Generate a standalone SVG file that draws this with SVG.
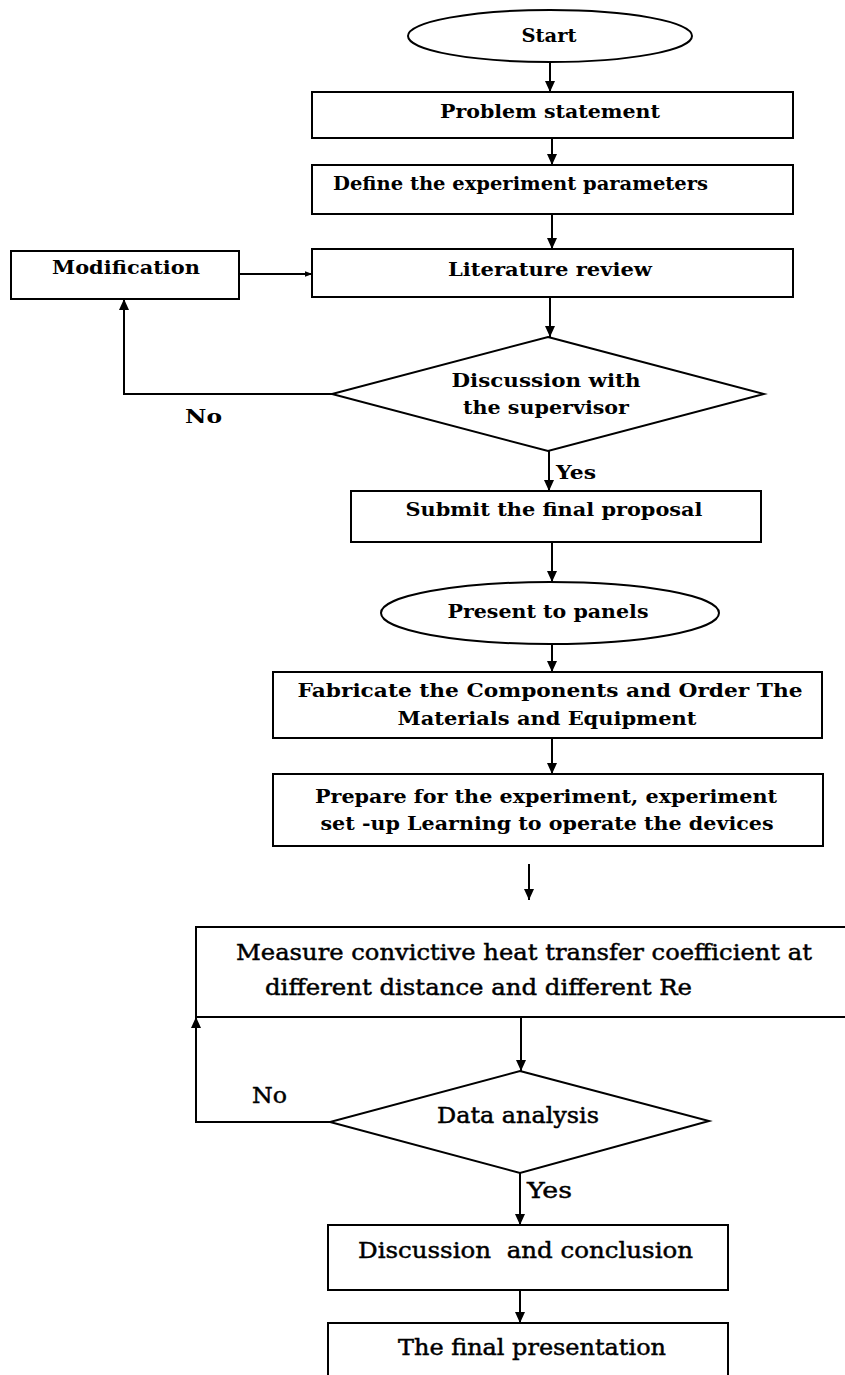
<svg xmlns="http://www.w3.org/2000/svg" width="845" height="1375" viewBox="0 0 845 1375">
<defs>
<style>
.box{fill:#fff;stroke:#000;stroke-width:2}
.ln{fill:none;stroke:#000;stroke-width:2}
.tb{font-family:"DejaVu Serif","Liberation Serif",serif;font-weight:bold;font-size:18.5px;fill:#000}
.tr{font-family:"DejaVu Serif","Liberation Serif",serif;font-size:21.5px;fill:#000;stroke:#000;stroke-width:0.45}
.c{text-anchor:middle}
</style>
<marker id="ah" markerUnits="userSpaceOnUse" markerWidth="12" markerHeight="12" viewBox="0 0 12 12" refX="11" refY="6" orient="auto">
<path d="M0,1 L11,6 L0,11 Z" fill="#000"/>
</marker>
<marker id="ahs" markerUnits="userSpaceOnUse" markerWidth="8" markerHeight="8" viewBox="0 0 8 8" refX="7.5" refY="4" orient="auto">
<path d="M0,1 L8,4 L0,7 Z" fill="#000"/>
</marker>
</defs>
<rect width="845" height="1375" fill="#fff"/>
<g id="connectors">
<line class="ln" x1="550" y1="62" x2="550" y2="92" marker-end="url(#ah)"/>
<line class="ln" x1="552" y1="138" x2="552" y2="165" marker-end="url(#ah)"/>
<line class="ln" x1="552" y1="214" x2="552" y2="249" marker-end="url(#ah)"/>
<line class="ln" x1="239" y1="274" x2="312" y2="274" marker-end="url(#ahs)"/>
<line class="ln" x1="550" y1="297" x2="550" y2="337" marker-end="url(#ah)"/>
<polyline class="ln" points="332,394 124,394 124,299" marker-end="url(#ah)"/>
<line class="ln" x1="549" y1="451" x2="549" y2="491" marker-end="url(#ah)"/>
<line class="ln" x1="552" y1="542" x2="552" y2="582" marker-end="url(#ah)"/>
<line class="ln" x1="552" y1="644" x2="552" y2="672" marker-end="url(#ah)"/>
<line class="ln" x1="552" y1="738" x2="552" y2="774" marker-end="url(#ah)"/>
<line class="ln" x1="529" y1="864" x2="529" y2="900" marker-end="url(#ah)"/>
<line class="ln" x1="521" y1="1017" x2="521" y2="1071" marker-end="url(#ah)"/>
<polyline class="ln" points="330,1122 196,1122 196,1017" marker-end="url(#ah)"/>
<line class="ln" x1="520" y1="1173" x2="520" y2="1225" marker-end="url(#ah)"/>
<line class="ln" x1="520" y1="1290" x2="520" y2="1323" marker-end="url(#ah)"/>
<text class="tb" x="185" y="423" textLength="37" lengthAdjust="spacingAndGlyphs">No</text>
<text class="tb" x="556" y="479" textLength="40" lengthAdjust="spacingAndGlyphs">Yes</text>
<text class="tr" x="252" y="1103" textLength="35" lengthAdjust="spacingAndGlyphs">No</text>
<text class="tr" x="527" y="1198" textLength="45" lengthAdjust="spacingAndGlyphs">Yes</text>
</g>
<g id="start">
<ellipse class="box" cx="550" cy="36" rx="142" ry="26"/>
<text class="tb c" x="549" y="42" textLength="55" lengthAdjust="spacingAndGlyphs">Start</text>
</g>
<g id="problem">
<rect class="box" x="312" y="92" width="481" height="46"/>
<text class="tb c" x="550" y="118" textLength="220" lengthAdjust="spacingAndGlyphs">Problem statement</text>
</g>
<g id="define">
<rect class="box" x="312" y="165" width="481" height="49"/>
<text class="tb" x="333" y="190" textLength="375" lengthAdjust="spacingAndGlyphs">Define the experiment parameters</text>
</g>
<g id="modification">
<rect class="box" x="11" y="251" width="228" height="48"/>
<text class="tb c" x="126" y="274" textLength="148" lengthAdjust="spacingAndGlyphs">Modification</text>
</g>
<g id="literature">
<rect class="box" x="312" y="249" width="481" height="48"/>
<text class="tb c" x="550" y="276" textLength="204" lengthAdjust="spacingAndGlyphs">Literature review</text>
</g>
<g id="discussion-supervisor">
<polygon class="box" points="548,337 764,394 548,451 332,394"/>
<text class="tb c" x="546" y="387" textLength="189" lengthAdjust="spacingAndGlyphs">Discussion with</text>
<text class="tb c" x="546" y="414" textLength="166" lengthAdjust="spacingAndGlyphs">the supervisor</text>
</g>
<g id="submit">
<rect class="box" x="351" y="491" width="410" height="51"/>
<text class="tb c" x="554" y="516" textLength="297" lengthAdjust="spacingAndGlyphs">Submit the final proposal</text>
</g>
<g id="present">
<ellipse class="box" cx="550" cy="613" rx="169" ry="31"/>
<text class="tb c" x="548" y="618" textLength="201" lengthAdjust="spacingAndGlyphs">Present to panels</text>
</g>
<g id="fabricate">
<rect class="box" x="273" y="672" width="549" height="66"/>
<text class="tb c" x="550" y="697" textLength="505" lengthAdjust="spacingAndGlyphs">Fabricate the Components and Order The</text>
<text class="tb c" x="547" y="725" textLength="299" lengthAdjust="spacingAndGlyphs">Materials and Equipment</text>
</g>
<g id="prepare">
<rect class="box" x="273" y="774" width="550" height="72"/>
<text class="tb c" x="546" y="803" textLength="462" lengthAdjust="spacingAndGlyphs">Prepare for the experiment, experiment</text>
<text class="tb c" x="547" y="830" textLength="453" lengthAdjust="spacingAndGlyphs">set -up Learning to operate the devices</text>
</g>
<g id="measure">
<rect class="box" x="196" y="927" width="660" height="90"/>
<text class="tr" x="236" y="960" textLength="576" lengthAdjust="spacingAndGlyphs">Measure convictive heat transfer coefficient at</text>
<text class="tr" x="265" y="995" textLength="427" lengthAdjust="spacingAndGlyphs">different distance and different Re</text>
</g>
<g id="data-analysis">
<polygon class="box" points="520,1071 709,1121 520,1173 330,1122"/>
<text class="tr c" x="518" y="1123" textLength="162" lengthAdjust="spacingAndGlyphs">Data analysis</text>
</g>
<g id="discussion-conclusion">
<rect class="box" x="328" y="1225" width="400" height="65"/>
<text class="tr" x="358" y="1258" textLength="335" lengthAdjust="spacingAndGlyphs" xml:space="preserve">Discussion  and conclusion</text>
</g>
<g id="final">
<rect class="box" x="328" y="1323" width="400" height="60"/>
<text class="tr" x="398" y="1355" textLength="268" lengthAdjust="spacingAndGlyphs">The final presentation</text>
</g>
</svg>
